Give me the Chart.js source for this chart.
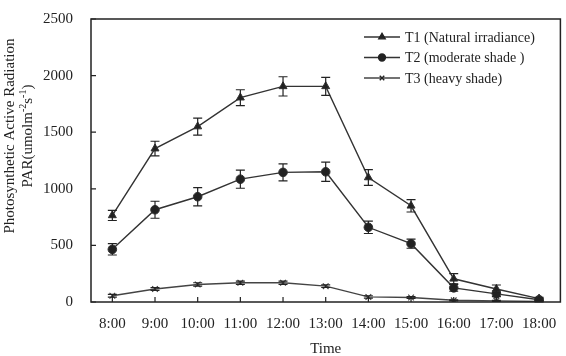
<!DOCTYPE html>
<html>
<head>
<meta charset="utf-8">
<script src="https://cdn.jsdelivr.net/npm/chart.js@4.4.1/dist/chart.umd.min.js"></script>
<style>
    html, body { margin: 0; padding: 0; background: #fff; }
</style>
</head>
<body>
<canvas id="myChart" width="566" height="356"></canvas>
<script>
const times = ["8:00", "9:00", "10:00", "11:00", "12:00", "13:00", "14:00", "15:00", "16:00", "17:00", "18:00"];

const t1 = [765, 1355, 1550, 1805, 1905, 1905, 1100, 850, 205, 115, 30];
const t1_err = [45, 65, 75, 70, 85, 80, 70, 55, 45, 35, 10];

const t2 = [465, 815, 930, 1085, 1145, 1150, 660, 515, 125, 72, 20];
const t2_err = [50, 75, 80, 80, 75, 85, 55, 40, 30, 25, 10];

const t3 = [55, 115, 155, 170, 170, 140, 45, 40, 15, 10, 5];
const t3_err = [12, 12, 15, 15, 15, 12, 10, 8, 5, 5, 5];

const labels = ["T1 (Natural irradiance)", "T2 (moderate shade )", "T3 (heavy shade)"];
const y_max = 2500;
const y_step = 500;

const ink = "#222";
const serif = "'Liberation Serif', 'Times New Roman', serif";

// error bars, drawn through the y scale
const error_bars = {
    id: "error_bars",
    afterDatasetsDraw(chart) {
        const ctx = chart.ctx;
        const y = chart.scales.y;
        ctx.save();
        ctx.strokeStyle = ink;
        ctx.lineWidth = 1.2;
        chart.data.datasets.forEach((ds, i) => {
            const meta = chart.getDatasetMeta(i);
            meta.data.forEach((pt, j) => {
                const e = ds.errors[j];
                const top = y.getPixelForValue(ds.data[j] + e);
                const bot = y.getPixelForValue(Math.max(ds.data[j] - e, 0));
                ctx.beginPath();
                ctx.moveTo(pt.x, top);
                ctx.lineTo(pt.x, bot);
                ctx.moveTo(pt.x - 4.5, top);
                ctx.lineTo(pt.x + 4.5, top);
                ctx.moveTo(pt.x - 4.5, bot);
                ctx.lineTo(pt.x + 4.5, bot);
                ctx.stroke();
            });
        });
        ctx.restore();
    }
};

// box, inward ticks, legend and y title
const frame = {
    id: "frame",
    afterDraw(chart) {
        const ctx = chart.ctx;
        const a = chart.chartArea;
        const x = chart.scales.x;
        const y = chart.scales.y;
        ctx.save();
        ctx.strokeStyle = ink;
        ctx.lineWidth = 1.5;
        ctx.strokeRect(a.left, a.top, a.right - a.left, a.bottom - a.top);

        ctx.lineWidth = 1.2;
        ctx.beginPath();
        y.ticks.forEach((t, i) => {
            const py = y.getPixelForTick(i);
            ctx.moveTo(a.left, py);
            ctx.lineTo(a.left + 5, py);
        });
        x.ticks.forEach((t, i) => {
            const px = x.getPixelForTick(i);
            ctx.moveTo(px, a.bottom);
            ctx.lineTo(px, a.bottom - 5);
        });
        ctx.stroke();

        // legend
        ctx.font = "14px " + serif;
        ctx.textBaseline = "middle";
        chart.data.datasets.forEach((ds, i) => {
            const ly = 37 + i * 20.5;
            ctx.strokeStyle = ds.borderColor;
            ctx.lineWidth = ds.borderWidth;
            ctx.beginPath();
            ctx.moveTo(364, ly);
            ctx.lineTo(400, ly);
            ctx.stroke();
            ctx.fillStyle = ink;
            ctx.strokeStyle = ink;
            Chart.helpers.drawPoint(ctx, {
                pointStyle: ds.pointStyle,
                radius: ds.pointRadius * 0.8,
                rotation: 0,
                borderWidth: 1.1
            }, 382, ly);
            ctx.fillStyle = ink;
            ctx.fillText(ds.label, 405, ly + 1);
        });

        // y axis title with superscripts
        ctx.rotate(-Math.PI / 2);
        ctx.textAlign = "center";
        ctx.font = "15px " + serif;
        ctx.fillText("Photosynthetic Active Radiation", -136, 10);
        const parts = [["PAR(umolm", false], ["-2", true], ["s", false], ["-1", true], [")", false]];
        let w = 0;
        parts.forEach((p) => {
            ctx.font = (p[1] ? "10px " : "15px ") + serif;
            w += ctx.measureText(p[0]).width;
        });
        let cx = -136 - w / 2;
        ctx.textAlign = "left";
        parts.forEach((p) => {
            ctx.font = (p[1] ? "10px " : "15px ") + serif;
            ctx.fillText(p[0], cx, p[1] ? 23 : 28);
            cx += ctx.measureText(p[0]).width;
        });
        ctx.restore();
    }
};

const ctx = document.getElementById("myChart").getContext("2d");
const my_chart = new Chart(ctx, {
    type: "line",
    data: {
        labels: times,
        datasets: [
            {
                label: labels[0],
                data: t1,
                errors: t1_err,
                borderColor: "#333",
                backgroundColor: ink,
                borderWidth: 1.4,
                pointStyle: "triangle",
                pointRadius: 4.6,
                pointBorderWidth: 1,
            },
            {
                label: labels[1],
                data: t2,
                errors: t2_err,
                borderColor: "#333",
                backgroundColor: ink,
                borderWidth: 1.4,
                pointStyle: "circle",
                pointRadius: 4.3,
                pointBorderWidth: 1,
            },
            {
                label: labels[2],
                data: t3,
                errors: t3_err,
                borderColor: "#444",
                backgroundColor: ink,
                borderWidth: 1.4,
                pointStyle: "crossRot",
                pointRadius: 4,
                pointBorderWidth: 1.2,
            },
        ],
    },
    options: {
        responsive: false,
        animation: false,
        layout: { padding: { top: 7, right: 1, left: 0, bottom: 0 } },
        plugins: {
            legend: { display: false },
            tooltip: { enabled: false },
        },
        scales: {
            x: {
                offset: true,
                grid: { display: false },
                border: { display: false },
                ticks: { font: { family: serif, size: 15 }, color: ink, padding: 5, maxRotation: 0, autoSkip: false },
                title: { display: true, text: "Time", font: { family: serif, size: 15 }, color: ink, padding: { top: 0, bottom: -2 } },
                afterFit(scale) { scale.height = 54; },
            },
            y: {
                min: 0,
                max: y_max,
                grid: { display: false },
                border: { display: false },
                ticks: {
                    stepSize: y_step,
                    font: { family: serif, size: 15 },
                    color: ink,
                    padding: 10,
                    callback: (v) => String(v),
                },
                afterFit(scale) { scale.width = 91; },
            },
        },
    },
    plugins: [error_bars, frame],
});
</script>
</body>
</html>
